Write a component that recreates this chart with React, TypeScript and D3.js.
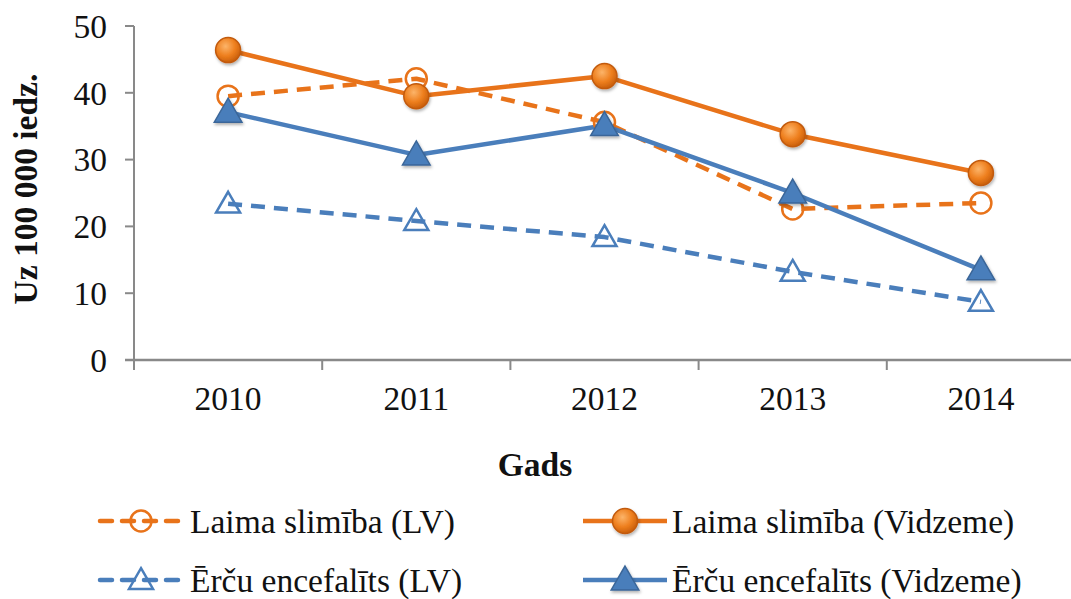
import React from "react";
import * as d3 from "d3";

const years = ["2010", "2011", "2012", "2013", "2014"];
const laimaLV = [39.5, 42.1, 35.6, 22.6, 23.5];
const laimaVidzeme = [46.4, 39.5, 42.5, 33.8, 28.0];
const ercuLV = [23.4, 20.8, 18.4, 13.2, 8.7];
const ercuVidzeme = [37.1, 30.7, 35.1, 25.0, 13.5];
const yTicks = [0, 10, 20, 30, 40, 50];

const W = 1071;
const H = 599;
const ORANGE = "#E8731A";
const BLUE = "#4A7EBB";
const FONT = "Liberation Serif";
const FS = 33.5;

type Series = {
  name: string;
  values: number[];
  color: string;
  dashed: boolean;
  marker: "circle" | "triangle";
  filled: boolean;
};

const series: Series[] = [
  { name: "Laima slimība (LV)", values: laimaLV, color: ORANGE, dashed: true, marker: "circle", filled: false },
  { name: "Laima slimība (Vidzeme)", values: laimaVidzeme, color: ORANGE, dashed: false, marker: "circle", filled: true },
  { name: "Ērču encefalīts (LV)", values: ercuLV, color: BLUE, dashed: true, marker: "triangle", filled: false },
  { name: "Ērču encefalīts (Vidzeme)", values: ercuVidzeme, color: BLUE, dashed: false, marker: "triangle", filled: true },
];

function Marker({ s, x, y }: { s: Series; x: number; y: number }) {
  if (s.marker === "circle") {
    return (
      <circle
        cx={x}
        cy={y}
        r={s.filled ? 12.5 : 10.5}
        fill={s.filled ? "url(#orangeGrad)" : "none"}
        stroke={s.filled ? "#C25A0C" : ORANGE}
        strokeWidth={s.filled ? 1.5 : 2.5}
        filter={s.filled ? "url(#shadow)" : undefined}
      />
    );
  }
  const tri = d3.symbol().type(d3.symbolTriangle).size(s.filled ? 330 : 250)();
  return (
    <path
      d={tri || ""}
      transform={`translate(${x},${y + 2})`}
      fill={s.filled ? BLUE : "#fff"}
      fillOpacity={s.filled ? 1 : 0}
      stroke={s.filled ? "#3A6699" : BLUE}
      strokeWidth={s.filled ? 1.5 : 2.5}
      filter={s.filled ? "url(#shadow)" : undefined}
    />
  );
}

export default function App() {
  const left = 134;
  const right = 1075;
  const top = 26;
  const bottom = 360;

  const xBand = d3.scaleBand<string>().domain(years).range([left, right]).padding(0);
  const xc = (y: string) => (xBand(y) as number) + xBand.bandwidth() / 2;
  const yScale = d3.scaleLinear().domain([0, 50]).range([bottom, top]);

  const line = d3
    .line<number>()
    .x((_, i) => xc(years[i]))
    .y((v) => yScale(v));

  const boundaries = years.map((y) => xBand(y) as number).concat([right]);

  const legendItems = [
    { s: series[0], x: 100, w: 82, y: 521, tx: 190 },
    { s: series[1], x: 583, w: 84, y: 521, tx: 672 },
    { s: series[2], x: 100, w: 82, y: 580, tx: 190 },
    { s: series[3], x: 583, w: 84, y: 580, tx: 672 },
  ];

  return (
    <svg
      width={W}
      height={H}
      style={{ position: "absolute", left: 0, top: 0, background: "#fff" }}
      fontFamily={FONT}
    >
      <defs>
        <radialGradient id="orangeGrad" cx="40%" cy="35%" r="70%">
          <stop offset="0%" stopColor="#FCB469" />
          <stop offset="55%" stopColor="#EE7F1E" />
          <stop offset="100%" stopColor="#C45A08" />
        </radialGradient>
        <filter id="shadow" x="-50%" y="-50%" width="200%" height="200%">
          <feDropShadow dx="1" dy="2" stdDeviation="1.5" floodColor="#000" floodOpacity="0.3" />
        </filter>
      </defs>

      {/* Y axis */}
      <line x1={left} x2={left} y1={top} y2={bottom} stroke="#898989" strokeWidth={2} />
      {yTicks.map((t) => (
        <g key={t}>
          <line x1={left - 9} x2={left} y1={yScale(t)} y2={yScale(t)} stroke="#898989" strokeWidth={2} />
          <text x={107} y={yScale(t)} dy="0.35em" textAnchor="end" fontSize={FS} fill="#111">
            {t}
          </text>
        </g>
      ))}

      {/* X axis */}
      <line x1={left - 9} x2={right} y1={bottom} y2={bottom} stroke="#898989" strokeWidth={2.5} />
      {boundaries.map((b, i) => (
        <line key={i} x1={b} x2={b} y1={bottom} y2={bottom + 10} stroke="#898989" strokeWidth={2} />
      ))}
      {years.map((y) => (
        <text key={y} x={xc(y)} y={410} textAnchor="middle" fontSize={FS} fill="#111">
          {y}
        </text>
      ))}

      {/* Axis titles */}
      <text
        transform={`translate(37,189) rotate(-90)`}
        textAnchor="middle"
        fontSize={FS}
        fontWeight="bold"
        fill="#111"
      >
        Uz 100 000 iedz.
      </text>
      <text x={535} y={476} textAnchor="middle" fontSize={FS} fontWeight="bold" fill="#111">
        Gads
      </text>

      {/* Lines */}
      {series.map((s) => (
        <path
          key={s.name + "-line"}
          d={line(s.values) || ""}
          fill="none"
          stroke={s.color}
          strokeWidth={4.5}
          strokeDasharray={s.dashed ? "14 9" : undefined}
          strokeLinejoin="round"
        />
      ))}
      {series.map((s) =>
        s.values.map((v, i) => <Marker key={s.name + i} s={s} x={xc(years[i])} y={yScale(v)} />)
      )}

      {/* Legend */}
      {legendItems.map(({ s, x, w, y, tx }) => (
        <g key={s.name + "-legend"}>
          <line
            x1={x}
            x2={x + w}
            y1={y}
            y2={y}
            stroke={s.color}
            strokeWidth={4.5}
            strokeLinecap={s.dashed ? "round" : "butt"}
            strokeDasharray={s.dashed ? "12 10" : undefined}
          />
          <Marker s={s} x={(x + x + w) / 2} y={y} />
          <text x={tx} y={y} dy="0.35em" fontSize={FS} fill="#111">
            {s.name}
          </text>
        </g>
      ))}
    </svg>
  );
}
